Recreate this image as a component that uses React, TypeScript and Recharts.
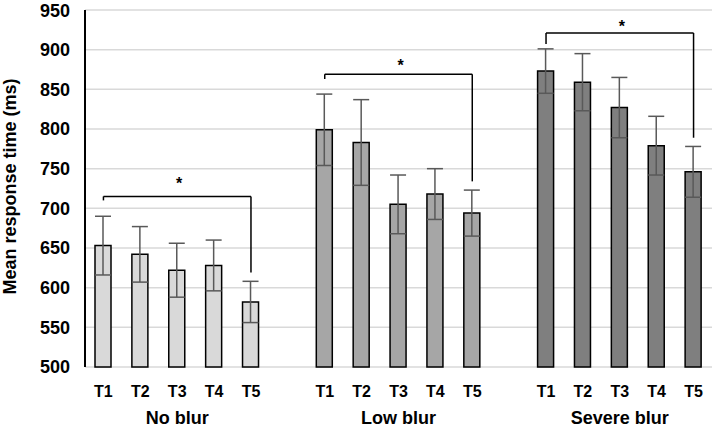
import React from 'react';
import {
  BarChart,
  Bar,
  Cell,
  ErrorBar,
  XAxis,
  YAxis,
  CartesianGrid,
  ReferenceLine,
  ReferenceDot,
} from 'recharts';

const timepoints = ['T1', 'T2', 'T3', 'T4', 'T5'];
const conditions = ['No blur', 'Low blur', 'Severe blur'];
const conditionColors = ['#d9d9d9', '#a6a6a6', '#7f7f7f'];

// mean response times (ms) and error bars per condition
const noBlurMeans = [653, 642, 622, 628, 582];
const noBlurErr = [37, 35, 34, 32, 26];
const lowBlurMeans = [799, 783, 705, 718, 694];
const lowBlurErr = [45, 54, 37, 32, 29];
const severeBlurMeans = [873, 859, 827, 779, 746];
const severeBlurErr = [28, 36, 38, 37, 32];

// significance brackets T1 vs T5
const bracketTop = [715, 869, 921];
const bracketLeftEnd = [710, 863, 907];
const bracketRightEnd = [619, 734, 789];
const asteriskY = [734, 883, 932];

const yTicks = [500, 550, 600, 650, 700, 750, 800, 850, 900, 950];

const FONT = '"Liberation Sans", Arial, sans-serif';

const allMeans = [noBlurMeans, lowBlurMeans, severeBlurMeans];
const allErr = [noBlurErr, lowBlurErr, severeBlurErr];

const key = (c: number, t: number) => `${conditions[c]}|${timepoints[t]}`;

// build rows, with an empty slot between groups
const data: any[] = [];
conditions.forEach((cond, c) => {
  if (c > 0) data.push({ key: `gap${c}`, value: null, err: null, group: -1 });
  timepoints.forEach((tp, t) => {
    data.push({ key: key(c, t), value: allMeans[c][t], err: allErr[c][t], group: c });
  });
});

const XTick = ({ x, y, payload }: any) => {
  const v: string = payload.value;
  if (!v.includes('|')) return null;
  const [cond, tp] = v.split('|');
  return (
    <g>
      <text x={x} y={y + 22} textAnchor="middle" fontFamily={FONT} fontWeight="bold" fontSize={16} fill="#000">
        {tp}
      </text>
      {tp === 'T3' && (
        <text x={x} y={y + 49} textAnchor="middle" fontFamily={FONT} fontWeight="bold" fontSize={18} fill="#000">
          {cond}
        </text>
      )}
    </g>
  );
};

const Asterisk = (props: any) => (
  <text x={props.cx + 2} y={props.cy + 8} textAnchor="middle" fontFamily={FONT} fontWeight="bold" fontSize={16} fill="#000">
    *
  </text>
);

export default function App() {
  return (
    <div style={{ position: 'absolute', left: 0, top: 0, width: 718, height: 429, background: '#fff' }}>
      <BarChart width={718} height={429} data={data} margin={{ top: 10, right: 6, left: 0, bottom: 2 }}>
        <CartesianGrid vertical={false} stroke="#d9d9d9" strokeWidth={1.5} />
        <XAxis
          dataKey="key"
          interval={0}
          axisLine={false}
          tickLine={false}
          height={60}
          tick={<XTick />}
        />
        <YAxis
          domain={[500, 950]}
          ticks={yTicks}
          width={85}
          axisLine={{ stroke: '#000', strokeWidth: 2 }}
          tickLine={false}
          tickMargin={9}
          tick={{ fontSize: 18, fontWeight: 'bold', fontFamily: FONT, fill: '#000' }}
          label={{
            content: ({ viewBox }: any) => {
              const cx = viewBox.x + 10;
              const cy = viewBox.y + viewBox.height / 2 - 2;
              return (
                <text
                  transform={`translate(${cx},${cy}) rotate(-90)`}
                  textAnchor="middle"
                  dominantBaseline="central"
                  fontFamily={FONT}
                  fontWeight="bold"
                  fontSize={18}
                  fill="#000"
                >
                  Mean response time (ms)
                </text>
              );
            },
          }}
        />
        <Bar dataKey="value" barSize={16} stroke="#000" strokeWidth={1.5} isAnimationActive={false}>
          {data.map((d, i) => (
            <Cell key={i} fill={d.group >= 0 ? conditionColors[d.group] : 'none'} />
          ))}
          <ErrorBar dataKey="err" width={8} stroke="#595959" strokeWidth={1.5} />
        </Bar>
        {conditions.map((_, c) => (
          <React.Fragment key={c}>
            <ReferenceLine
              segment={[{ x: key(c, 0), y: bracketTop[c] }, { x: key(c, 4), y: bracketTop[c] }]}
              stroke="#000"
              strokeWidth={1.5}
            />
            <ReferenceLine
              segment={[{ x: key(c, 0), y: bracketTop[c] }, { x: key(c, 0), y: bracketLeftEnd[c] }]}
              stroke="#000"
              strokeWidth={1.5}
            />
            <ReferenceLine
              segment={[{ x: key(c, 4), y: bracketTop[c] }, { x: key(c, 4), y: bracketRightEnd[c] }]}
              stroke="#000"
              strokeWidth={1.5}
            />
            <ReferenceDot x={key(c, 2)} y={asteriskY[c]} r={0} shape={<Asterisk />} />
          </React.Fragment>
        ))}
      </BarChart>
    </div>
  );
}
